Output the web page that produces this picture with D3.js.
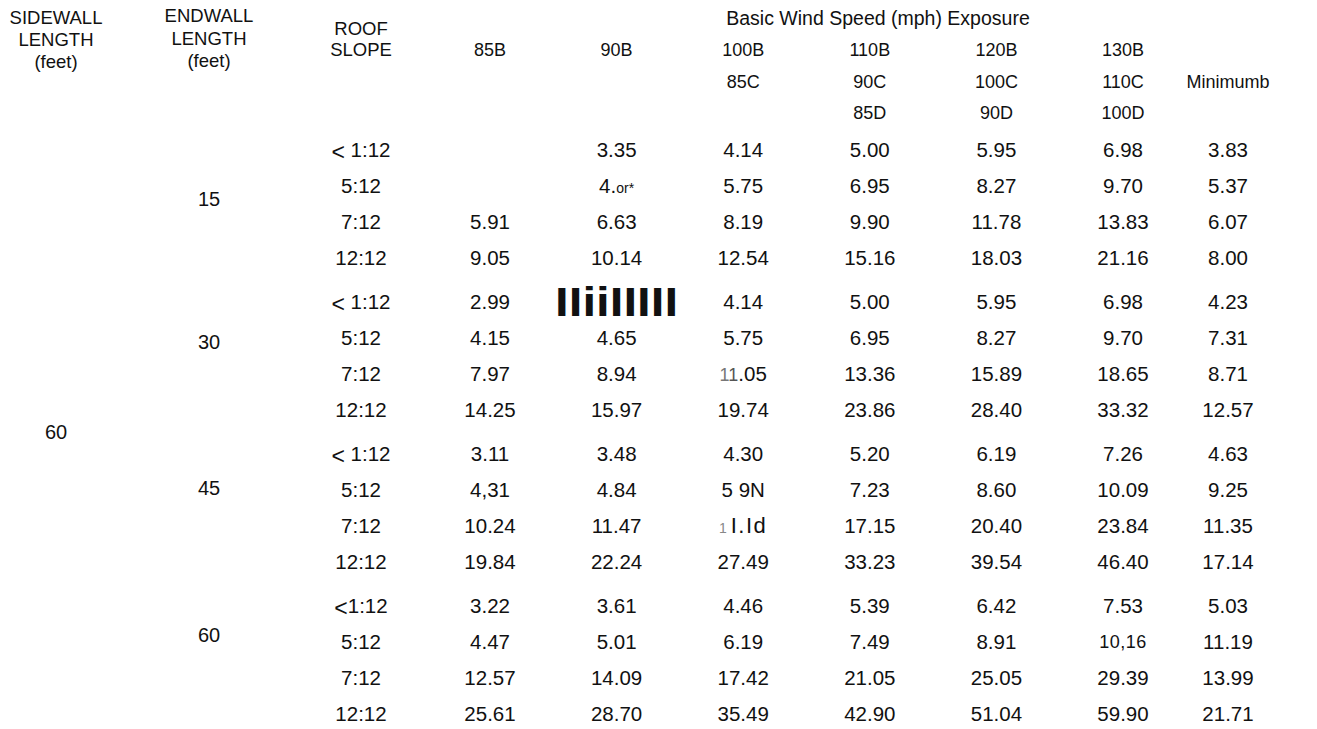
<!DOCTYPE html>
<html>
<head>
<meta charset="utf-8">
<script src="https://cdn.jsdelivr.net/npm/d3@7"></script>
<style>
  body { margin: 0; background: #fff; }
  svg { display: block; font-family: "Liberation Sans", Arial, sans-serif; }
  text { fill: #111; }
</style>
</head>
<body>
<svg width="1317" height="729"></svg>
<script>
(function (d3) {
  'use strict';

  // table content (OCR glitches kept as printed)
  const sidewall = ['60'];
  const endwalls = ['15', '30', '45', '60'];
  const roofSlopes = [
    '< 1:12', '5:12', '7:12', '12:12',
    '< 1:12', '5:12', '7:12', '12:12',
    '< 1:12', '5:12', '7:12', '12:12',
    '<1:12', '5:12', '7:12', '12:12'
  ];
  const speedHeaders = [
    ['85B'], ['90B'], ['100B', '85C'], ['110B', '90C', '85D'],
    ['120B', '100C', '90D'], ['130B', '110C', '100D']
  ];
  const v85B = ['', '', '5.91', '9.05', '2.99', '4.15', '7.97', '14.25',
    '3.11', '4,31', '10.24', '19.84', '3.22', '4.47', '12.57', '25.61'];
  const v90B = ['3.35', '4.or*', '6.63', '10.14', 'IIiiIIIII', '4.65', '8.94', '15.97',
    '3.48', '4.84', '11.47', '22.24', '3.61', '5.01', '14.09', '28.70'];
  const v100B = ['4.14', '5.75', '8.19', '12.54', '4.14', '5.75', '11.05', '19.74',
    '4.30', '5 9N', '1 I.Id', '27.49', '4.46', '6.19', '17.42', '35.49'];
  const v110B = ['5.00', '6.95', '9.90', '15.16', '5.00', '6.95', '13.36', '23.86',
    '5.20', '7.23', '17.15', '33.23', '5.39', '7.49', '21.05', '42.90'];
  const v120B = ['5.95', '8.27', '11.78', '18.03', '5.95', '8.27', '15.89', '28.40',
    '6.19', '8.60', '20.40', '39.54', '6.42', '8.91', '25.05', '51.04'];
  const v130B = ['6.98', '9.70', '13.83', '21.16', '6.98', '9.70', '18.65', '33.32',
    '7.26', '10.09', '23.84', '46.40', '7.53', '10,16', '29.39', '59.90'];
  const minimum = ['3.83', '5.37', '6.07', '8.00', '4.23', '7.31', '8.71', '12.57',
    '4.63', '9.25', '11.35', '17.14', '5.03', '11.19', '13.99', '21.71'];

  const speedCols = [v85B, v90B, v100B, v110B, v120B, v130B];
  const perGroup = roofSlopes.length / endwalls.length;

  const svg = d3.select('svg');

  // rows: one block per endwall length, a little extra gap between blocks
  const groupY = d3.scaleLinear().domain([0, endwalls.length - 1]).range([150, 606]);
  const innerY = d3.scaleLinear().domain([0, perGroup - 1]).range([0, 108]);
  const rowY = i => groupY(Math.floor(i / perGroup)) + innerY(i % perGroup);
  // fractional row position (for the merged cells)
  const y = r => {
    const i = Math.min(Math.floor(r), roofSlopes.length - 2);
    return rowY(i) + (rowY(i + 1) - rowY(i)) * (r - i);
  };

  const x = d3.scalePoint().domain(d3.range(speedCols.length)).range([490, 1123]);
  const hy = d3.scaleLinear().domain([0, 2]).range([50, 113]);

  const xSide = 56, xEnd = 209, xSlope = 361, xMin = 1228;

  const label = (g, tx, ty, txt, size) => g.append('text')
    .attr('x', tx).attr('y', ty).attr('dy', '0.35em')
    .attr('text-anchor', 'middle')
    .style('font-size', size + 'px')
    .text(txt);

  // headers
  const head = svg.append('g');
  ['SIDEWALL', 'LENGTH', '(feet)'].forEach((t, i) => label(head, xSide, 18 + i * 22, t, 18.5));
  ['ENDWALL', 'LENGTH', '(feet)'].forEach((t, i) => label(head, xEnd, 16 + i * 22.5, t, 18.5));
  ['ROOF', 'SLOPE'].forEach((t, i) => label(head, xSlope, 29 + i * 21, t, 18.5));
  label(head, 878, 18, 'Basic Wind Speed (mph) Exposure', 19.5);
  speedHeaders.forEach((lines, c) => {
    lines.forEach((t, k) => label(head, x(c), hy(k), t, 18));
  });
  label(head, xMin, hy(1), 'Minimumb', 18);

  // left label columns
  const left = svg.append('g');
  const endwallRow = [1.35, 5.1, 8.95, 12.8];
  label(left, xSide, y(7.5), sidewall[0], 20);
  endwalls.forEach((t, i) => label(left, xEnd, y(endwallRow[i]), t, 20));
  left.selectAll('text.slope').data(roofSlopes).enter().append('text')
    .attr('class', 'slope')
    .attr('x', xSlope).attr('y', (d, i) => rowY(i))
    .attr('text-anchor', 'middle')
    .style('font-size', '20.5px')
    .each(function (d) {
      const t = d3.select(this);
      if (d.startsWith('<')) {
        t.append('tspan').style('font-size', '23px').attr('dy', '9.8px').text('<');
        t.append('tspan').attr('dy', '-2.6px').text(d.slice(1));
      } else {
        t.attr('dy', '0.35em').text(d);
      }
    });

  // a few cells of the scan came out garbled; draw them as printed
  function cell(sel, d) {
    if (d === 'IIiiIIIII') {
      sel.style('font-size', '40px').style('font-weight', 'bold')
        .attr('textLength', 123).attr('lengthAdjust', 'spacingAndGlyphs')
        .attr('dy', '0.36em').text(d);
    } else if (d === '4.or*') {
      sel.append('tspan').text('4.');
      sel.append('tspan').style('font-size', '14px').text('or*');
    } else if (d === '11.05') {
      sel.append('tspan').style('fill', '#777').style('font-size', '18px').text('1');
      sel.append('tspan').style('fill', '#555').style('font-size', '18px').text('1');
      sel.append('tspan').text('.05');
    } else if (d === '1 I.Id') {
      sel.append('tspan').style('fill', '#888').style('font-size', '14px').text('1 ');
      sel.append('tspan').style('font-size', '22px').style('letter-spacing', '1.5px').text('I.Id');
    } else if (d === '10,16') {
      sel.style('font-size', '18px').style('letter-spacing', '0.5px').text(d);
    } else {
      sel.text(d);
    }
  }

  const body = svg.append('g');
  speedCols.forEach((vals, c) => {
    body.append('g').selectAll('text').data(vals).enter().append('text')
      .attr('x', x(c)).attr('y', (d, i) => rowY(i)).attr('dy', '0.35em')
      .attr('text-anchor', 'middle')
      .style('font-size', '20.5px')
      .each(function (d) { cell(d3.select(this), d); });
  });

  body.append('g').selectAll('text').data(minimum).enter().append('text')
    .attr('x', xMin).attr('y', (d, i) => rowY(i)).attr('dy', '0.35em')
    .attr('text-anchor', 'middle')
    .style('font-size', '20.5px')
    .text(d => d);

}(d3));
</script>
</body>
</html>
